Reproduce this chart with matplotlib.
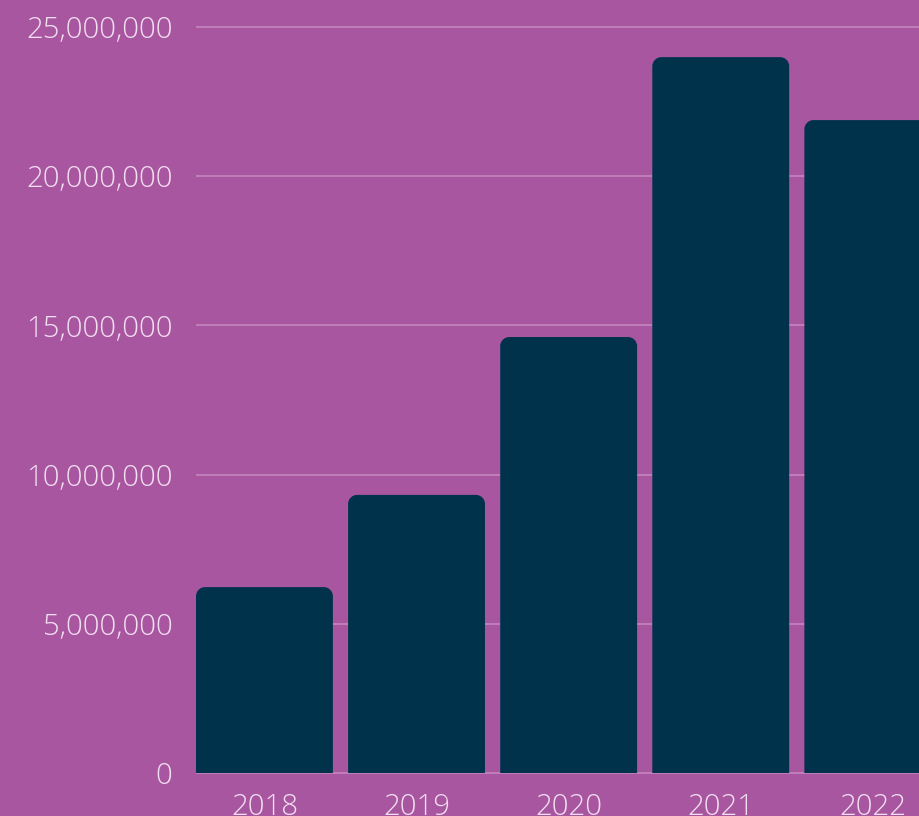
import matplotlib
matplotlib.use("Agg")
import matplotlib.pyplot as plt
from matplotlib.path import Path
from matplotlib.patches import PathPatch
from matplotlib.ticker import FuncFormatter

years = ["2018", "2019", "2020", "2021", "2022"]
values = [6_230_000, 9_320_000, 14_610_000, 23_990_000, 21_880_000]
yticks = [0, 5_000_000, 10_000_000, 15_000_000, 20_000_000, 25_000_000]

BG = "#A956A1"
BAR = "#01324C"
TXT = "#F1DEEF"
GRID = "#C487C0"

plt.rcParams['font.family'] = ['Open Sans', 'DejaVu Sans']

fig = plt.figure(figsize=(9.2, 8.16), dpi=100, facecolor=BG)
W, H = 920, 816
# axes in pixel coordinates
ax_left_px, ax_right_px = 196, 920
ax_top_px, ax_bot_px = 18, 776
ax = fig.add_axes([ax_left_px / W, (H - ax_bot_px) / H,
                   (ax_right_px - ax_left_px) / W, (ax_bot_px - ax_top_px) / H])
ax.set_facecolor(BG)

px_per_unit = 29.84e-6  # px per value
y0 = -(ax_bot_px - 773) / px_per_unit
y1 = 25_000_000 + (27 - ax_top_px) / px_per_unit
ax.set_ylim(y0, y1)
ax.set_xlim(-0.45, 4.31)

x = list(range(len(years)))
bars = ax.bar(x, values, width=0.9, color=BAR, zorder=3)

rx = 9 / 152
ry = 9 / px_per_unit
k = 0.5523
for b in bars:
    b.set_visible(False)
    bx0 = b.get_x()
    bx1 = bx0 + b.get_width()
    h = b.get_height()
    verts = [
        (bx0, 0), (bx1, 0), (bx1, h - ry),
        (bx1, h - ry + k * ry), (bx1 - rx + k * rx, h), (bx1 - rx, h),
        (bx0 + rx, h),
        (bx0 + rx - k * rx, h), (bx0, h - ry + k * ry), (bx0, h - ry),
        (bx0, 0),
    ]
    codes = [Path.MOVETO, Path.LINETO, Path.LINETO,
             Path.CURVE4, Path.CURVE4, Path.CURVE4,
             Path.LINETO,
             Path.CURVE4, Path.CURVE4, Path.CURVE4,
             Path.CLOSEPOLY]
    ax.add_patch(PathPatch(Path(verts, codes), facecolor=BAR, edgecolor="none", zorder=3))

ax.set_yticks(yticks)
ax.yaxis.set_major_formatter(FuncFormatter(lambda v, p: f"{int(v):,}"))
ax.set_xticks(x)
ax.set_xticklabels(years)
ax.grid(axis="y", color=GRID, linewidth=1.2, zorder=0)
ax.set_axisbelow(True)
for s in ax.spines.values():
    s.set_visible(False)
ax.tick_params(axis="both", length=0, colors=TXT, labelsize=21.2)
ax.tick_params(axis="y", pad=17)
ax.tick_params(axis="x", pad=12)
for lab in ax.get_xticklabels() + ax.get_yticklabels():
    lab.set_fontweight("light")

fig.savefig("out.png", dpi=100, facecolor=BG)
